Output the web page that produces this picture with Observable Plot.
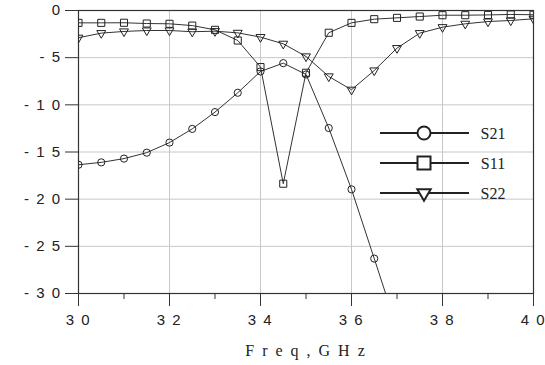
<!DOCTYPE html>
<html><head><meta charset="utf-8">
<script src="https://cdn.jsdelivr.net/npm/d3@7"></script>
<script src="https://cdn.jsdelivr.net/npm/@observablehq/plot@0.6"></script>
<style>
body{margin:0;background:#fff}
svg{display:block}
g[aria-label="x-axis tick label"] text{letter-spacing:1.5px}
g[aria-label="y-axis tick label"] text{letter-spacing:1.5px}
g[aria-label="text"] text{letter-spacing:2px}
</style>
</head><body><div id="chart"></div>
<script>
const freq = [3.0,3.05,3.1,3.15,3.2,3.25,3.3,3.35,3.4,3.45,3.5,3.55,3.6,3.65,3.7,3.75,3.8,3.85,3.9,3.95,4.0];
const s21 = [-16.35,-16.1,-15.7,-15.07,-14.0,-12.55,-10.77,-8.72,-6.46,-5.58,-6.78,-12.46,-18.96,-26.3,-33.7];
const s11 = [-1.31,-1.31,-1.3,-1.38,-1.41,-1.6,-2.05,-3.18,-6.0,-18.36,-6.6,-2.36,-1.31,-0.92,-0.78,-0.64,-0.5,-0.5,-0.47,-0.42,-0.45];
const s22 = [-2.89,-2.4,-2.22,-2.12,-2.12,-2.25,-2.19,-2.37,-2.82,-3.53,-4.87,-6.99,-8.4,-6.36,-3.99,-2.4,-1.77,-1.41,-1.17,-1.06,-0.88];

const xTicks = [3.0,3.2,3.4,3.6,3.8,4.0];
const xLabels = ["3 0","3 2","3 4","3 6","3 8","4 0"];
const xMinor = [3.1,3.3,3.5,3.7,3.9];
const yTicks = [0,-5,-10,-15,-20,-25,-30];
const yLabels = ["0","- 5","- 1 0","- 1 5","- 2 0","- 2 5","- 3 0"];
const xTitle = "F r e q , G H z";

const seriesNames = ["S21","S11","S22"];
const seriesValues = [s21, s11, s22];
const seriesSymbols = ["circle","square","triangle"];

const rows = [];
seriesNames.forEach((name, k) => {
  seriesValues[k].forEach((v, i) => rows.push({series: name, freq: freq[i], db: v}));
});

const markStyle = {S21: {r: 3.6, rotate: 0}, S11: {r: 4, rotate: 0}, S22: {r: 3.3, rotate: 180}};

const chart = Plot.plot({
  width: 545, height: 365,
  marginLeft: 78, marginRight: 12, marginTop: 10, marginBottom: 72,
  x: {domain: [3, 4]},
  y: {domain: [-30, 0]},
  style: {fontFamily: "Liberation Sans", fontSize: "15px", color: "#222", background: "#fff", overflow: "visible"},
  marks: [
    Plot.gridX(xTicks, {stroke: "#c8c8c8", strokeOpacity: 1}),
    Plot.gridY(yTicks, {stroke: "#c8c8c8", strokeOpacity: 1}),
    Plot.axisX(xMinor, {tickSize: 6, text: null, label: null, stroke: "#333"}),
    Plot.axisX(xTicks, {tickSize: 13, tickPadding: 8, fontSize: 15, tickFormat: d => xLabels[xTicks.indexOf(d)], label: null, stroke: "#333", fill: "#222"}),
    Plot.axisY(yTicks, {tickSize: 13, tickPadding: 4, fontSize: 15, tickFormat: d => yLabels[yTicks.indexOf(d)], label: null, stroke: "#333", fill: "#222"}),
    Plot.frame({stroke: "#333", strokeWidth: 1.2}),
    Plot.line(rows, {x: "freq", y: "db", z: "series", stroke: "#333", strokeWidth: 1, clip: true}),
    ...seriesNames.map((name, k) => Plot.dot(rows.filter(d => d.series === name), {
      x: "freq", y: "db", symbol: seriesSymbols[k], r: markStyle[name].r, rotate: markStyle[name].rotate,
      stroke: "#222", strokeWidth: 1, fill: "none", clip: true
    })),
    Plot.text([xTitle], {frameAnchor: "bottom", dy: 62, fontFamily: "Liberation Serif", fontSize: 16, fill: "#222"})
  ]
});

// Legend (inside plot area)
const svg = d3.select(chart);
const lg = svg.append("g").attr("class", "legend");
const legendSymbols = [d3.symbolCircle, d3.symbolSquare, d3.symbolTriangle];
const legendSizes = [Math.PI * 6.5 * 6.5, 169, 78];
const legendX0 = 380, legendX1 = 469, legendMark = 424, legendText = 493;
const legendY0 = 133, legendStep = 30;
seriesNames.forEach((name, k) => {
  const y = legendY0 + k * legendStep;
  lg.append("line").attr("x1", legendX0).attr("x2", legendX1).attr("y1", y).attr("y2", y)
    .attr("stroke", "#222").attr("stroke-width", 2);
  lg.append("path").attr("d", d3.symbol(legendSymbols[k], legendSizes[k])())
    .attr("transform", `translate(${legendMark},${y})` + (name === "S22" ? " rotate(180)" : ""))
    .attr("fill", "#fff").attr("stroke", "#222").attr("stroke-width", 2);
  lg.append("text").attr("x", legendText).attr("y", y).attr("dy", "0.35em")
    .attr("font-family", "Liberation Serif").attr("font-size", 16).attr("fill", "#222").text(name);
});

document.getElementById("chart").append(chart);
</script>
</body></html>
